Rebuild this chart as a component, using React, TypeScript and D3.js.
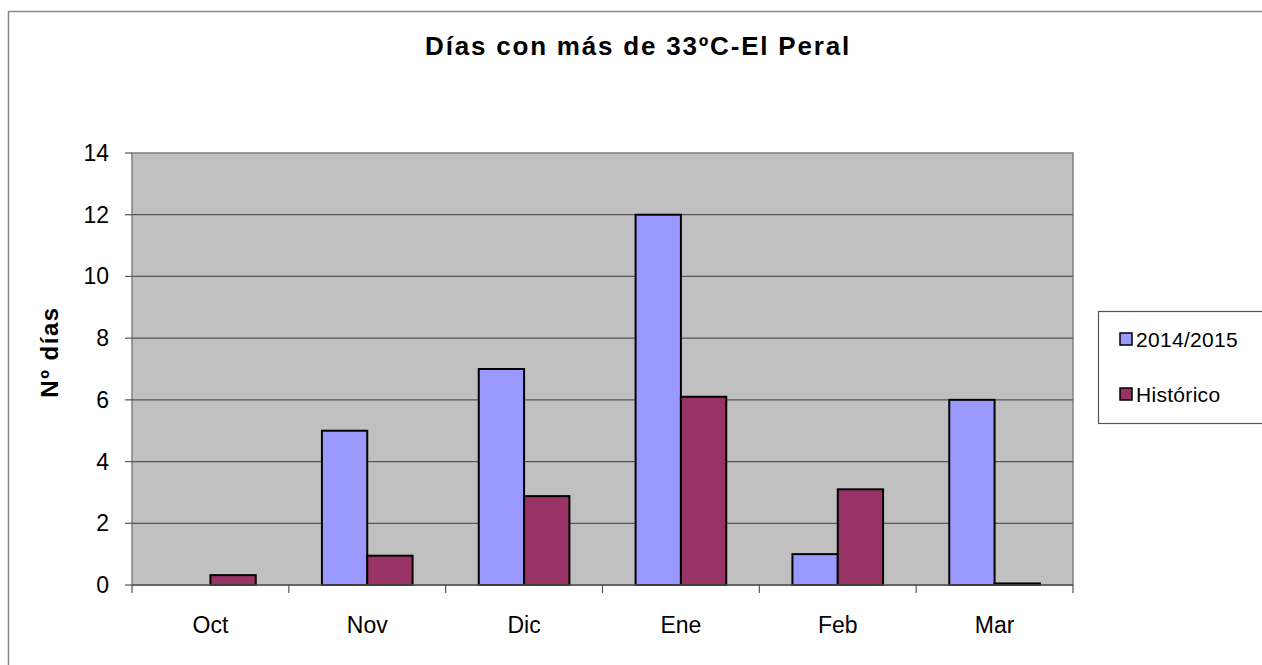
import React from "react";
import { scaleBand, scaleLinear } from "d3";

const months = ["Oct", "Nov", "Dic", "Ene", "Feb", "Mar"];
const season = [0, 5, 7, 12, 1, 6];
const historico = [0.32, 0.95, 2.88, 6.1, 3.1, 0.05];
const yTicks = [0, 2, 4, 6, 8, 10, 12, 14];
const seriesNames = ["2014/2015", "Histórico"];
const colors = ["#9999FF", "#993366"];

const W = 1262;
const H = 665;
const left = 132;
const right = 1073;
const top = 153;
const bottom = 585;

const App = () => {
  const x = scaleBand<string>().domain(months).range([left, right]);
  const inner = scaleBand<number>()
    .domain([0, 1])
    .range([0, x.bandwidth()])
    .paddingOuter(0.73)
    .paddingInner(0);
  const y = scaleLinear().domain([0, 14]).range([bottom, top]);
  const font = "'Liberation Sans', Arial, sans-serif";

  return (
    <svg
      width={W}
      height={H}
      style={{ position: "absolute", left: 0, top: 0, background: "#fff" }}
      fontFamily={font}
    >
      {/* outer chart border */}
      <rect x={8.5} y={11.5} width={W} height={H} fill="none" stroke="#888" strokeWidth={1.5} />

      <text x={638} y={55} textAnchor="middle" fontSize={26} fontWeight="bold" letterSpacing={1.8}>
        Días con más de 33ºC-El Peral
      </text>

      {/* plot area */}
      <rect x={left} y={top} width={right - left} height={bottom - top} fill="#C0C0C0" stroke="#808080" strokeWidth={1.5} />
      {yTicks.map(t => (
        <g key={t}>
          {t > 0 && t < 14 && (
            <line x1={left} x2={right} y1={y(t)} y2={y(t)} stroke="#555" strokeWidth={1.2} />
          )}
          <line x1={left - 7} x2={left} y1={y(t)} y2={y(t)} stroke="#555" strokeWidth={1.2} />
          <text x={109} y={y(t) + 8} textAnchor="end" fontSize={23}>
            {t}
          </text>
        </g>
      ))}

      {/* bars */}
      {months.map((m, i) =>
        [season[i], historico[i]].map((v, s) =>
          v > 0 ? (
            <rect
              key={m + s}
              x={(x(m) as number) + (inner(s) as number)}
              y={y(v)}
              width={inner.bandwidth()}
              height={bottom - y(v)}
              fill={colors[s]}
              stroke="#000"
              strokeWidth={2}
            />
          ) : null
        )
      )}

      {/* x axis */}
      <line x1={left} x2={right} y1={bottom} y2={bottom} stroke="#555" strokeWidth={1.5} />
      {months.map((m, i) => (
        <g key={m}>
          <line x1={x(m) as number} x2={x(m) as number} y1={bottom} y2={bottom + 8} stroke="#555" strokeWidth={1.2} />
          {i === months.length - 1 && (
            <line x1={right} x2={right} y1={bottom} y2={bottom + 8} stroke="#555" strokeWidth={1.2} />
          )}
          <text x={(x(m) as number) + x.bandwidth() / 2} y={633} textAnchor="middle" fontSize={23}>
            {m}
          </text>
        </g>
      ))}

      <text
        transform="translate(58,352) rotate(-90)"
        textAnchor="middle"
        fontSize={24}
        fontWeight="bold"
        letterSpacing={1.5}
      >
        Nº días
      </text>

      {/* legend */}
      <rect x={1098.5} y={311.5} width={200} height={112} fill="#fff" stroke="#555" strokeWidth={1.2} />
      {seriesNames.map((n, i) => (
        <g key={n}>
          <rect x={1120} y={333 + i * 55} width={12} height={12} fill={colors[i]} stroke="#000" strokeWidth={1.5} />
          <text x={1136} y={347 + i * 55} fontSize={21} letterSpacing={0.3}>
            {n}
          </text>
        </g>
      ))}
    </svg>
  );
};

export default App;
